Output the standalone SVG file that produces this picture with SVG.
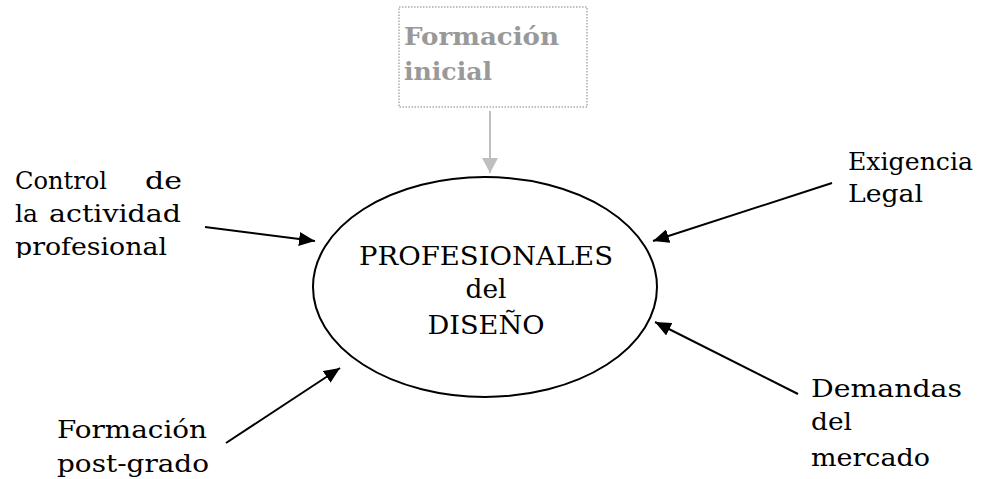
<svg xmlns="http://www.w3.org/2000/svg" width="989" height="479" viewBox="0 0 989 479">
<style>
.t{font-family:"DejaVu Serif","Liberation Serif",serif;font-size:24.5px;fill:#000}
.c{font-family:"DejaVu Serif","Liberation Serif",serif;font-size:26px;fill:#000;text-anchor:middle}
.g{font-family:"DejaVu Serif","Liberation Serif",serif;font-size:24px;font-weight:bold;fill:#999}
.ar{stroke:#000;stroke-width:2;fill:none}
</style>
<defs>
<marker id="ah" markerUnits="userSpaceOnUse" markerWidth="18" markerHeight="14" refX="16" refY="7" orient="auto">
<path d="M0,0 L16,7 L0,14 Z" fill="#000"/>
</marker>
<marker id="ahg" markerUnits="userSpaceOnUse" markerWidth="18" markerHeight="16" refX="15" refY="8" orient="auto">
<path d="M0,0 L15,8 L0,16 Z" fill="#bfbfbf"/>
</marker>
<clipPath id="clipL"><rect x="0" y="150" width="260" height="108"/></clipPath>
</defs>
<rect width="989" height="479" fill="#fff"/>
<g id="connectors">
<line x1="490" y1="111" x2="490" y2="173" stroke="#bfbfbf" stroke-width="2" marker-end="url(#ahg)"/>
<line class="ar" x1="205" y1="227" x2="315" y2="241" marker-end="url(#ah)"/>
<line class="ar" x1="832" y1="183" x2="653" y2="241" marker-end="url(#ah)"/>
<line class="ar" x1="798" y1="394" x2="655" y2="322" marker-end="url(#ah)"/>
<line class="ar" x1="226" y1="443" x2="340" y2="368" marker-end="url(#ah)"/>
</g>
<g id="formacion-inicial">
<rect x="399" y="7" width="188" height="100" fill="none" stroke="#aaa" stroke-width="1.5" stroke-dasharray="1.5 1.5"/>
<text class="g" x="404" y="45" textLength="155" lengthAdjust="spacingAndGlyphs">Formación</text>
<text class="g" x="404" y="80" textLength="88" lengthAdjust="spacingAndGlyphs">inicial</text>
</g>
<g id="profesionales">
<ellipse cx="485" cy="287" rx="172" ry="110" fill="none" stroke="#000" stroke-width="2"/>
<text class="c" x="486" y="265" textLength="254" lengthAdjust="spacingAndGlyphs">PROFESIONALES</text>
<text class="c" x="486" y="298" textLength="41" lengthAdjust="spacingAndGlyphs">del</text>
<text class="c" x="486" y="334" textLength="117" lengthAdjust="spacingAndGlyphs">DISEÑO</text>
</g>
<g id="control" clip-path="url(#clipL)">
<text class="t" y="189"><tspan x="15" textLength="92" lengthAdjust="spacingAndGlyphs">Control</tspan><tspan x="145" textLength="37" lengthAdjust="spacingAndGlyphs">de</tspan></text>
<text class="t" y="222"><tspan x="15" textLength="23" lengthAdjust="spacingAndGlyphs">la</tspan><tspan x="49" textLength="132" lengthAdjust="spacingAndGlyphs">actividad</tspan></text>
<text class="t" x="15" y="255" textLength="152" lengthAdjust="spacingAndGlyphs">profesional</text>
</g>
<g id="exigencia">
<text class="t" x="848" y="170" textLength="125" lengthAdjust="spacingAndGlyphs">Exigencia</text>
<text class="t" x="848" y="202" textLength="75" lengthAdjust="spacingAndGlyphs">Legal</text>
</g>
<g id="demandas">
<text class="t" x="811" y="397" textLength="151" lengthAdjust="spacingAndGlyphs">Demandas</text>
<text class="t" x="811" y="430" textLength="41" lengthAdjust="spacingAndGlyphs">del</text>
<text class="t" x="811" y="466" textLength="119" lengthAdjust="spacingAndGlyphs">mercado</text>
</g>
<g id="posgrado">
<text class="t" x="57" y="438" textLength="150" lengthAdjust="spacingAndGlyphs">Formación</text>
<text class="t" x="57" y="472" textLength="152" lengthAdjust="spacingAndGlyphs">post-grado</text>
</g>
</svg>
